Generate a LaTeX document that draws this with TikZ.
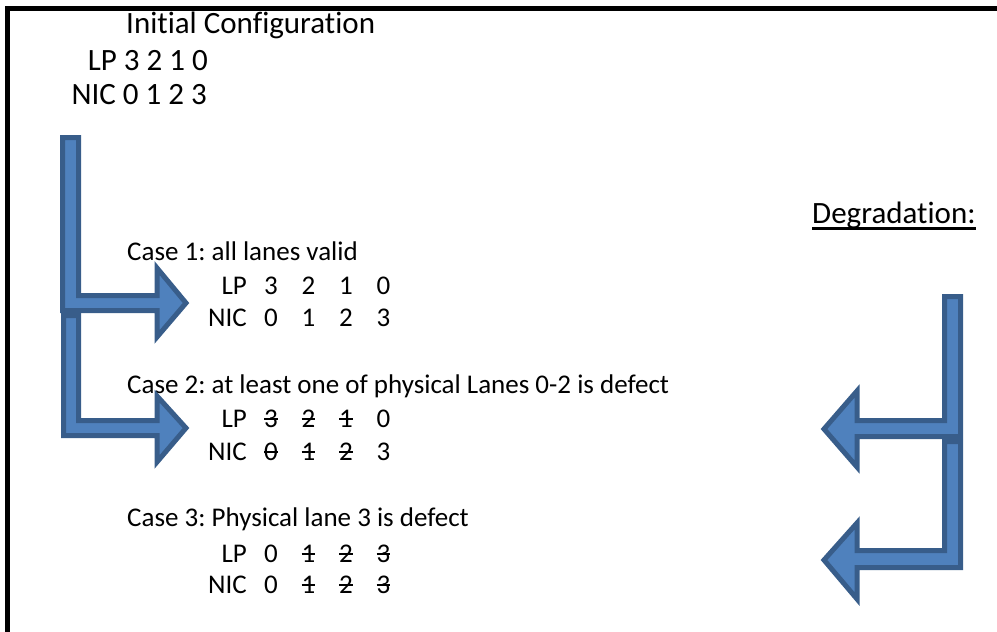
\documentclass[tikz,border=0pt]{standalone}
\usepackage{fontspec}
\setmainfont[Ligatures=NoCommon]{Carlito}

\definecolor{arrowfill}{HTML}{4F81BD}
\definecolor{arrowline}{HTML}{385D8A}

\tikzstyle{bigtext} = [inner sep=0pt, anchor=base west, font=\fontsize{31}{37}\selectfont]
\tikzstyle{casetext} = [inner sep=0pt, anchor=base west, font=\fontsize{27}{32}\selectfont]
\tikzstyle{lanelabel} = [casetext, anchor=base east]
\tikzstyle{lanedigit} = [casetext, anchor=base]
\tikzstyle{bentarrow} = [fill=arrowfill, draw=arrowline, line width=5pt]

\newsavebox{\lanebox}
\newcommand{\dead}[1]{\sbox{\lanebox}{#1}\rlap{\usebox{\lanebox}}\rule[0.27em]{\wd\lanebox}{1.6pt}}
\newcommand{\headline}[1]{\sbox{\lanebox}{#1}\rlap{\usebox{\lanebox}}\rule[-7pt]{\wd\lanebox}{3pt}}
\frenchspacing

\begin{document}
\begin{tikzpicture}[x=1pt, y=-1pt]
		\useasboundingbox (0,0) rectangle (997,632);
		% frame, only top and left are visible
		\draw[line width=5pt] (7.5,632) -- (7.5,8.5) -- (997,8.5);
		
		\node[bigtext] (title) at (126,33) {Initial Configuration};
		\node[bigtext, anchor=base east] (initlp) at (208,70) {LP 3 2 1 0};
		\node[bigtext, anchor=base east] (initnic) at (207,104) {NIC 0 1 2 3};
		\node[bigtext] (degr) at (812,223) {\headline{Degradation:}};
		
		\node[casetext] (case1) at (127,260) {Case 1: all lanes valid};
		\node[casetext] (case2) at (127,393) {Case 2: at least one of physical Lanes 0-2 is defect};
		\node[casetext] (case3) at (127,526) {Case 3: Physical lane 3 is defect};
		
		\foreach \row\y\name in {lpA/294/LP, nicA/326/NIC, lpB/427/LP,
			nicB/460/NIC, lpC/562/LP, nicC/593/NIC}
		\node[lanelabel] (\row) at (247,\y) {\name};
		
		\foreach \row\y\digits in {lpA/294/{3,2,1,0}, nicA/326/{0,1,2,3},
			lpB/427/{\dead{3},\dead{2},\dead{1},0},
			nicB/460/{\dead{0},\dead{1},\dead{2},3},
			lpC/562/{0,\dead{1},\dead{2},\dead{3}},
			nicC/593/{0,\dead{1},\dead{2},\dead{3}}}
		\foreach \d [count=\i] in \digits
		\node[lanedigit] (\row_\i) at (233.5 + 37.5 * \i, \y) {\d};
		
		% left bent arrows
		\filldraw[bentarrow] (62.5,137.5) -- (78.5,137.5) -- (78.5,295.5) -- (157,295.5)
			-- (157,268) -- (186,303) -- (157,337) -- (157,310.5) -- (62.5,310.5) -- cycle;
		\filldraw[bentarrow] (63.5,315.5) -- (78.5,315.5) -- (78.5,420.5) -- (157,420.5)
			-- (157,396) -- (186,428) -- (157,462) -- (157,435.5) -- (63.5,435.5) -- cycle;
		
		% right bent arrows
		\filldraw[bentarrow] (944.5,296.5) -- (960.5,296.5) -- (960.5,436.5) -- (857,436.5)
			-- (857,467) -- (824,429) -- (857,391) -- (857,420.5) -- (944.5,420.5) -- cycle;
		\filldraw[bentarrow] (944.5,441.5) -- (960.5,441.5) -- (960.5,567.5) -- (857,567.5)
			-- (857,599) -- (824,560) -- (857,523) -- (857,550.5) -- (944.5,550.5) -- cycle;
		
	\end{tikzpicture}
\end{document}
